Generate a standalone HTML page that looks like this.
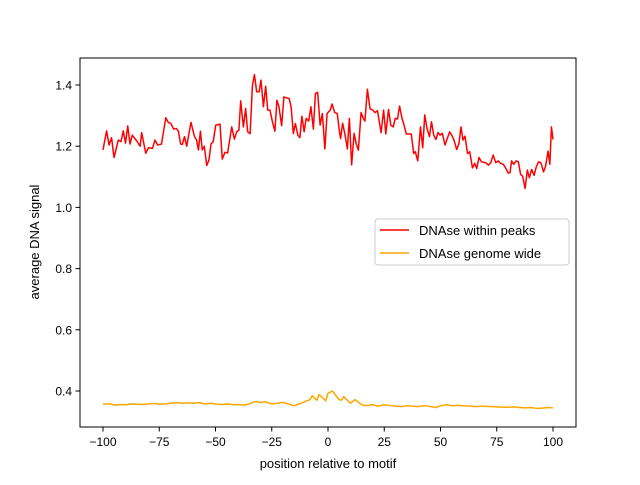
<!DOCTYPE html>
<html><head><meta charset="utf-8"><style>
body{margin:0;background:#fff}
svg{font-family:"Liberation Sans","DejaVu Sans",sans-serif}
</style></head><body>
<svg id="c" width="640" height="480" viewBox="0 0 640 480">
<rect width="640" height="480" fill="#fff"/>
<g id="plot"></g>
<rect x="80" y="58" width="496" height="369" fill="none" stroke="#000" stroke-width="1"/>
<g id="ticks"></g>
<text x="328" y="468" text-anchor="middle" font-size="13">position relative to motif</text>
<text transform="translate(39,242) rotate(-90)" text-anchor="middle" font-size="13">average DNA signal</text>
<g>
<rect x="375" y="219" width="194" height="46" rx="3" fill="#fff" stroke="#ccc"/>
<line x1="380" y1="230" x2="409" y2="230" stroke="red" stroke-width="1.5"/>
<text x="419" y="235" font-size="13">DNAse within peaks</text>
<line x1="380" y1="253" x2="409" y2="253" stroke="orange" stroke-width="1.5"/>
<text x="419" y="258" font-size="13">DNAse genome wide</text>
</g>
</svg>
<script>
const peakPos=[-100,-98.4,-97.3,-96.2,-95.1,-93.2,-92,-91,-90,-89,-88,-87,-85,-83.5,-82.8,-81,-79.8,-78,-76.9,-75.7,-74,-72.1,-71,-69.8,-68.6,-67.4,-66.5,-65.5,-64.7,-63.8,-62.8,-60.9,-59.4,-58.4,-57.6,-56.7,-55.9,-55,-53.9,-52.9,-52,-51,-49.9,-48,-47,-45.8,-44.6,-42.8,-41.6,-40.6,-39.6,-38.8,-37.6,-36.6,-35.7,-34.6,-33.6,-32.7,-31.7,-30.6,-29.8,-28.7,-27.7,-26.8,-25.8,-24.7,-23.6,-22.7,-21.8,-20.6,-19.6,-18.4,-17.3,-16.4,-15.4,-14.5,-13.4,-12.5,-11.6,-10.6,-9.7,-8.6,-7.6,-6.5,-5.6,-4.6,-3.5,-2.5,-1.4,-0.4,1,1.8,3,4.1,5.2,5.6,6.5,7.6,8.6,9.5,10.5,11.6,12.5,13.5,14.7,15.7,16.4,17.5,18.7,19.9,20.9,22,23.6,24.7,25.7,26.9,27.9,29,29.9,30.9,31.8,32.9,33.8,34.8,37,38.1,38.8,39.9,41.1,42.1,43,44,45.1,46,47,48,48.9,49.8,50.8,52,53,54.1,55.2,56.1,57.2,58.2,59.1,60,60.9,62,63,64.2,65.2,66.1,67.1,68.2,70.1,71.3,72.3,73.4,74.6,75.6,76.7,77.9,79.1,80,80.9,81.6,82.5,83.6,84.6,85.6,86.5,87.6,88.6,89.5,90.5,91.6,92.5,93.6,94.6,95.8,96.7,97.8,98.6,99.3,100];
const peakVals=[1.188,1.25,1.204,1.228,1.163,1.22,1.215,1.25,1.21,1.266,1.207,1.236,1.217,1.2,1.244,1.177,1.195,1.193,1.22,1.204,1.207,1.293,1.278,1.274,1.256,1.258,1.249,1.207,1.206,1.231,1.2,1.278,1.233,1.22,1.188,1.249,1.188,1.2,1.137,1.155,1.207,1.215,1.269,1.272,1.158,1.18,1.178,1.263,1.223,1.247,1.252,1.348,1.263,1.323,1.247,1.241,1.397,1.434,1.378,1.378,1.416,1.329,1.396,1.318,1.318,1.28,1.249,1.35,1.329,1.267,1.361,1.358,1.356,1.329,1.241,1.274,1.236,1.228,1.298,1.247,1.291,1.282,1.329,1.256,1.372,1.376,1.269,1.307,1.191,1.307,1.318,1.338,1.31,1.307,1.242,1.225,1.275,1.236,1.191,1.291,1.139,1.242,1.209,1.187,1.31,1.291,1.282,1.386,1.322,1.318,1.31,1.316,1.244,1.318,1.24,1.32,1.269,1.263,1.291,1.289,1.331,1.291,1.269,1.24,1.24,1.176,1.182,1.152,1.263,1.195,1.302,1.258,1.231,1.28,1.236,1.222,1.245,1.236,1.242,1.204,1.225,1.247,1.233,1.218,1.189,1.209,1.263,1.22,1.233,1.176,1.182,1.129,1.144,1.127,1.163,1.149,1.146,1.138,1.146,1.171,1.146,1.152,1.144,1.141,1.127,1.113,1.113,1.152,1.141,1.152,1.149,1.108,1.102,1.062,1.122,1.097,1.124,1.105,1.131,1.149,1.146,1.116,1.135,1.184,1.141,1.263,1.222];
const genomePos=[-100,-97,-95,-92,-90,-87,-85,-82,-80,-77,-75,-72,-70,-67,-65,-62,-60,-57,-55,-52,-50,-47,-45,-42,-40,-37,-35,-32,-30,-28,-25,-22,-20,-17,-15,-12,-10,-8,-7,-5,-4,-3,-1,0,2,3,4,5,6,7,8,10,12,15,17,20,22,25,28,30,33,35,38,40,43,45,48,50,53,55,58,60,63,65,68,70,73,75,78,80,83,85,88,90,93,95,98,100];
const genomeVals=[0.357,0.358,0.354,0.356,0.355,0.358,0.357,0.356,0.358,0.359,0.357,0.358,0.36,0.362,0.36,0.361,0.36,0.362,0.358,0.36,0.357,0.356,0.358,0.355,0.356,0.354,0.358,0.366,0.362,0.365,0.358,0.36,0.363,0.356,0.352,0.36,0.366,0.372,0.385,0.37,0.388,0.382,0.368,0.393,0.4,0.39,0.38,0.372,0.37,0.382,0.374,0.36,0.372,0.355,0.352,0.356,0.35,0.355,0.352,0.351,0.349,0.352,0.35,0.349,0.352,0.35,0.346,0.352,0.355,0.352,0.353,0.352,0.351,0.349,0.35,0.35,0.349,0.348,0.347,0.347,0.348,0.346,0.345,0.346,0.343,0.344,0.346,0.345];
const xTicks=[-100,-75,-50,-25,0,25,50,75,100];
const yTicks=[0.4,0.6,0.8,1.0,1.2,1.4];
const X=v=>103+(v+100)*2.25;
const Y=v=>391-(v-0.4)*306;
const NS='http://www.w3.org/2000/svg';
const plot=document.getElementById('plot'),ticks=document.getElementById('ticks');
function line(xs,ys,color,name){
  const p=document.createElementNS(NS,'polyline');
  p.setAttribute('points',xs.map((x,i)=>X(x).toFixed(2)+','+Y(ys[i]).toFixed(2)).join(' '));
  p.setAttribute('fill','none');p.setAttribute('stroke',color);p.setAttribute('stroke-width','1.5');
  p.setAttribute('stroke-linejoin','round');
  
  
  plot.appendChild(p);
}
line(genomePos,genomeVals,'orange','series-genome-wide');
line(peakPos,peakVals,'red','series-within-peaks');
xTicks.forEach(t=>{
  const l=document.createElementNS(NS,'line');
  l.setAttribute('x1',X(t));l.setAttribute('x2',X(t));l.setAttribute('y1',427);l.setAttribute('y2',431.5);l.setAttribute('stroke','#000');
  
  
  ticks.appendChild(l);
  const s=document.createElementNS(NS,'text');
  s.setAttribute('x',X(t));s.setAttribute('y',446);s.setAttribute('text-anchor','middle');s.setAttribute('font-size','12');
  s.textContent=t<0?'\u2212'+(-t):t;
  
  
  ticks.appendChild(s);
});
yTicks.forEach(t=>{
  const l=document.createElementNS(NS,'line');
  l.setAttribute('x1',75.5);l.setAttribute('x2',80);l.setAttribute('y1',Y(t));l.setAttribute('y2',Y(t));l.setAttribute('stroke','#000');
  
  
  ticks.appendChild(l);
  const s=document.createElementNS(NS,'text');
  s.setAttribute('x',72);s.setAttribute('y',Y(t)+4.5);s.setAttribute('text-anchor','end');s.setAttribute('font-size','12');
  s.textContent=t.toFixed(1);
  
  
  ticks.appendChild(s);
});
</script>
</body></html>
